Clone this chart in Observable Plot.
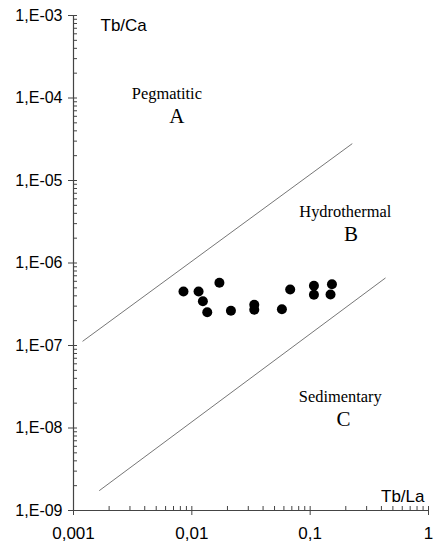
<!DOCTYPE html>
<html>
<head>
<meta charset="utf-8">
<script src="https://cdn.jsdelivr.net/npm/d3@7"></script>
<script src="https://cdn.jsdelivr.net/npm/@observablehq/plot@0.6"></script>
<style>
  html, body { margin: 0; padding: 0; background: #fff; }
  #chart svg { display: block; }
</style>
</head>
<body>
<div id="chart"></div>
<script>
// Samples: Tb/La (x) vs Tb/Ca (y)
const tbLa = [0.0085, 0.0114, 0.0171, 0.0124, 0.0135, 0.0214, 0.0337, 0.0337, 0.0577, 0.0678, 0.1076, 0.1076, 0.1528, 0.1486];
const tbCa = [4.52e-7, 4.52e-7, 5.75e-7, 3.44e-7, 2.53e-7, 2.64e-7, 3.11e-7, 2.71e-7, 2.75e-7, 4.77e-7, 5.29e-7, 4.12e-7, 5.53e-7, 4.15e-7];

// Boundary lines (endpoints in data units)
const upperLineX = [0.0012, 0.2255];
const upperLineY = [1.13e-7, 2.78e-5];
const lowerLineX = [0.00166, 0.4305];
const lowerLineY = [1.75e-9, 6.55e-7];

// Field names and letters
const fieldNames = ["Pegmatitic", "Hydrothermal", "Sedimentary"];
const fieldNameX = [0.00615, 0.198, 0.1795];
const fieldNameY = [9.86e-5, 3.59e-6, 2.06e-8];
const fieldLetters = ["A", "B", "C"];
const fieldLetterX = [0.00748, 0.221, 0.1915];
const fieldLetterY = [4.91e-5, 1.84e-6, 1.07e-8];

// Ticks
const xTicks = [0.001, 0.01, 0.1, 1];
const xTickLabels = ["0,001", "0,01", "0,1", "1"];
const yTicks = [1e-9, 1e-8, 1e-7, 1e-6, 1e-5, 1e-4, 1e-3];
const yTickLabels = ["1,E-09", "1,E-08", "1,E-07", "1,E-06", "1,E-05", "1,E-04", "1,E-03"];

const minorOf = (majors) => {
  const out = [];
  for (let i = 0; i < majors.length - 1; i++)
    for (let k = 2; k <= 9; k++) out.push(majors[i] * k);
  return out;
};
const xMinor = minorOf(xTicks);
const yMinor = minorOf(yTicks);

const points = tbLa.map((x, i) => ({x, y: tbCa[i]}));
const upper = upperLineX.map((x, i) => ({x, y: upperLineY[i]}));
const lower = lowerLineX.map((x, i) => ({x, y: lowerLineY[i]}));
const names = fieldNames.map((t, i) => ({t, x: fieldNameX[i], y: fieldNameY[i]}));
const letters = fieldLetters.map((t, i) => ({t, x: fieldLetterX[i], y: fieldLetterY[i]}));
const xLabelData = xTicks.map((v, i) => ({v, t: xTickLabels[i]}));
const yLabelData = yTicks.map((v, i) => ({v, t: yTickLabels[i]}));

const axisColor = "#444";
const sans = "Liberation Sans, Arial, sans-serif";
const serif = "Liberation Serif, Times New Roman, serif";

const chart = Plot.plot({
  width: 434,
  height: 549,
  marginLeft: 73,
  marginRight: 6,
  marginTop: 15,
  marginBottom: 39,
  style: {background: "#fff", fontFamily: sans},
  x: {type: "log", domain: [0.001, 1]},
  y: {type: "log", domain: [1e-9, 1e-3]},
  marks: [
    // axis lines
    Plot.ruleX([xTicks[0]], {stroke: axisColor, strokeWidth: 1.2}),
    Plot.ruleY([yTicks[0]], {stroke: axisColor, strokeWidth: 1.2}),
    // y major ticks (crossing)
    Plot.axisY({anchor: "left", ticks: yTicks, tickSize: 9, dx: 4, tickFormat: () => "", stroke: axisColor, label: null}),
    // y minor ticks (inside)
    Plot.axisY({anchor: "left", ticks: yMinor, tickSize: 4, dx: 4, tickFormat: () => "", stroke: axisColor, label: null}),
    // x major ticks (crossing)
    Plot.axisX({anchor: "bottom", ticks: xTicks, tickSize: 9, dy: -4, tickFormat: () => "", stroke: axisColor, label: null}),
    // x minor ticks (inside)
    Plot.axisX({anchor: "bottom", ticks: xMinor, tickSize: 4, dy: -4, tickFormat: () => "", stroke: axisColor, label: null}),
    // y tick labels
    Plot.text(yLabelData, {y: "v", text: "t", frameAnchor: "left", textAnchor: "end", dx: -11, fontSize: 16, fill: "#000"}),
    // x tick labels
    Plot.text(xLabelData, {x: "v", text: "t", frameAnchor: "bottom", lineAnchor: "top", dy: 16, fontSize: 17, fill: "#000"}),
    // axis titles
    Plot.text(["Tb/Ca"], {frameAnchor: "top-left", textAnchor: "start", lineAnchor: "bottom", dx: 27, dy: 15, fontSize: 17, fill: "#000"}),
    Plot.text(["Tb/La"], {frameAnchor: "bottom-right", textAnchor: "end", lineAnchor: "bottom", dx: -4, dy: -9, fontSize: 17, fill: "#000"}),
    // boundary lines
    Plot.line(upper, {x: "x", y: "y", stroke: "#666", strokeWidth: 0.9}),
    Plot.line(lower, {x: "x", y: "y", stroke: "#666", strokeWidth: 0.9}),
    // field labels
    Plot.text(names, {x: "x", y: "y", text: "t", textAnchor: "middle", lineAnchor: "bottom", fontFamily: serif, fontSize: 16.4, fill: "#000"}),
    Plot.text(letters, {x: "x", y: "y", text: "t", textAnchor: "middle", lineAnchor: "bottom", fontFamily: serif, fontSize: 21, fill: "#000"}),
    // samples
    Plot.dot(points, {x: "x", y: "y", r: 5, fill: "#000", stroke: "none"})
  ]
});

document.getElementById("chart").appendChild(chart);
</script>
</body>
</html>
